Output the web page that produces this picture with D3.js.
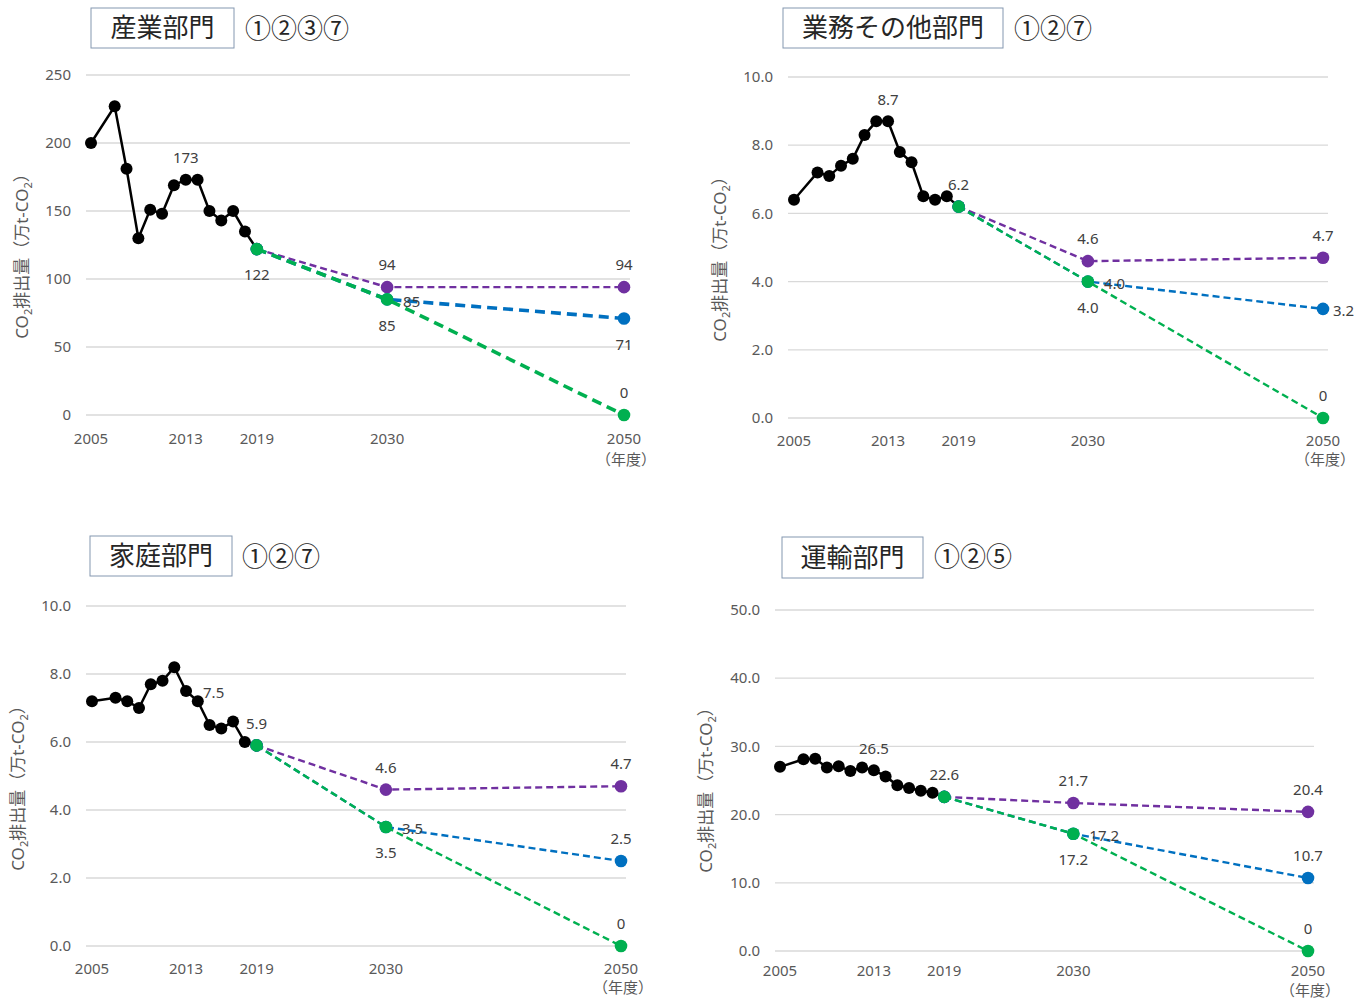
<!DOCTYPE html>
<html><head><meta charset="utf-8">
<script src="https://cdn.jsdelivr.net/npm/d3@7"></script>
<style>
body{margin:0;background:#fff;}
text{font-family:"Noto Sans","Noto Sans CJK JP",sans-serif;}
</style></head>
<body><svg id="c" width="1358" height="1001"></svg>
<script>
// ---- data ----
const histYears = [2005,2007,2008,2009,2010,2011,2012,2013,2014,2015,2016,2017,2018,2019];
const projYears = [2019,2030,2050];
const xTicks = [2005,2013,2019,2030,2050];

const titles = ["産業部門","業務その他部門","家庭部門","運輸部門"];
const titleNums = ["①②③⑦","①②⑦","①②⑦","①②⑤"];

const indHist = [200,227,181,130,151,148,169,173,173,150,143,150,135,122];
const indPurple = [122,94,94];
const indBlue = [122,85,71];
const indGreen = [122,85,0];
const indTicks = [0,50,100,150,200,250];

const busHist = [6.4,7.2,7.1,7.4,7.6,8.3,8.7,8.7,7.8,7.5,6.5,6.4,6.5,6.2];
const busPurple = [6.2,4.6,4.7];
const busBlue = [6.2,4.0,3.2];
const busGreen = [6.2,4.0,0];
const busTicks = [0,2,4,6,8,10];

const homHist = [7.2,7.3,7.2,7.0,7.7,7.8,8.2,7.5,7.2,6.5,6.4,6.6,6.0,5.9];
const homPurple = [5.9,4.6,4.7];
const homBlue = [5.9,3.5,2.5];
const homGreen = [5.9,3.5,0];
const homTicks = [0,2,4,6,8,10];

const trnHist = [27.0,28.1,28.2,26.9,27.1,26.4,26.9,26.5,25.6,24.3,23.9,23.5,23.2,22.6];
const trnPurple = [22.6,21.7,20.4];
const trnBlue = [22.6,17.2,10.7];
const trnGreen = [22.6,17.2,0];
const trnTicks = [0,10,20,30,40,50];

// ---- layout / style ----
const svg = d3.select("#c");
const C = {black:"#000", purple:"#7030A0", blue:"#0070C0", green:"#00B050"};

const panels = [
 {hist:indHist, purple:indPurple, blue:indBlue, green:indGreen, ticks:indTicks, max:250, fmt:d3.format("d"),
  x0:91,x1:624,yT:75,yB:415,g0:86,g1:630, box:[91,8,143,40], numX:245, titleY:29,
  axX:22, axY:252, thick:true, xlY:439, nenY:460,
  labels:[["h",7,"a"],["h",13,"b"],["p",1,"a"],["b",1,"r"],["g",1,"b"],["p",2,"a"],["b",2,"b"],["g",2,"a"]]},
 {hist:busHist, purple:busPurple, blue:busBlue, green:busGreen, ticks:busTicks, max:10, fmt:d3.format(".1f"),
  x0:794,x1:1323,yT:77,yB:418,g0:788,g1:1328, box:[783,8,220,40], numX:1014, titleY:29,
  axX:720, axY:255, thick:false, xlY:441, nenY:460,
  labels:[["h",7,"a"],["h",13,"a"],["p",1,"a"],["b",1,"r"],["g",1,"b"],["p",2,"a"],["b",2,"r2"],["g",2,"a"]]},
 {hist:homHist, purple:homPurple, blue:homBlue, green:homGreen, ticks:homTicks, max:10, fmt:d3.format(".1f"),
  x0:92,x1:621,yT:606,yB:946,g0:86,g1:626, box:[90,536,142,40], numX:242, titleY:557,
  axX:18, axY:784, thick:false, xlY:969, nenY:988,
  labels:[["h",7,"r3"],["h",13,"a"],["p",1,"a"],["b",1,"r"],["g",1,"b"],["p",2,"a"],["b",2,"a"],["g",2,"a"]]},
 {hist:trnHist, purple:trnPurple, blue:trnBlue, green:trnGreen, ticks:trnTicks, max:50, fmt:d3.format(".1f"),
  x0:780,x1:1308,yT:610,yB:951,g0:775,g1:1314, box:[782,537,141,41], numX:934, titleY:557,
  axX:706, axY:786, thick:false, xlY:971, nenY:991,
  labels:[["h",7,"a"],["h",13,"a"],["p",1,"a"],["b",1,"r"],["g",1,"b"],["p",2,"a"],["b",2,"a"],["g",2,"a"]]}
];

panels.forEach((P,pi)=>{
  const g = svg.append("g");
  const x = d3.scaleLinear().domain([2005,2050]).range([P.x0,P.x1]);
  const y = d3.scaleLinear().domain([0,P.max]).range([P.yB,P.yT]);

  // grid
  g.selectAll(".grid").data(P.ticks).join("line")
    .attr("x1",P.g0).attr("x2",P.g1).attr("y1",d=>y(d)).attr("y2",d=>y(d))
    .attr("stroke","#d9d9d9").attr("stroke-width",1.3);
  // y tick labels
  g.selectAll(".yl").data(P.ticks).join("text")
    .attr("x",P.g0-15).attr("y",d=>y(d)).attr("dy","0.35em").attr("text-anchor","end")
    .attr("font-size",15).attr("fill","#595959").text(d=>P.fmt(d));
  // x tick labels
  g.selectAll(".xl").data(xTicks).join("text")
    .attr("x",d=>x(d)).attr("y",P.xlY).attr("dy","0.35em").attr("text-anchor","middle")
    .attr("font-size",15).attr("fill","#595959").text(d=>d);
  g.append("text").attr("x",x(2050)+2).attr("y",P.nenY).attr("dy","0.35em").attr("text-anchor","middle")
    .attr("font-size",15).attr("fill","#595959").attr("font-family","Noto Sans CJK JP").text("（年度）");

  // y axis title
  const at = g.append("text").attr("transform",`translate(${P.axX},${P.axY}) rotate(-90)`)
    .attr("text-anchor","middle").attr("dy","0.35em").attr("font-size",17).attr("fill","#595959")
    .attr("font-family","Noto Sans CJK JP");
  at.append("tspan").text("CO");
  at.append("tspan").attr("font-size",11).attr("dy",4).text("2");
  at.append("tspan").attr("dy",-4).text("排出量（万t-CO");
  at.append("tspan").attr("font-size",11).attr("dy",4).text("2");
  at.append("tspan").attr("dy",-4).text("）");

  // title
  const [bx,by,bw,bh] = P.box;
  g.append("rect").attr("x",bx).attr("y",by).attr("width",bw).attr("height",bh)
    .attr("fill","#fff").attr("stroke","#8497b0").attr("stroke-width",1);
  g.append("text").attr("x",bx+bw/2).attr("y",by+bh/2).attr("dy","0.36em").attr("text-anchor","middle")
    .attr("font-size",26).attr("fill","#262626").attr("font-family","Noto Sans CJK JP").text(titles[pi]);
  g.append("text").attr("x",P.numX).attr("y",P.titleY).attr("dy","0.36em")
    .attr("font-size",26).attr("fill","#262626").attr("font-family","Noto Sans CJK JP").text(titleNums[pi]);

  const line = d3.line().x(d=>x(d[0])).y(d=>y(d[1]));
  // historical
  const hd = histYears.map((yr,i)=>[yr,P.hist[i]]);
  g.append("path").datum(hd).attr("d",line).attr("fill","none").attr("stroke",C.black).attr("stroke-width",2.5);
  g.selectAll(".hp").data(hd).join("circle").attr("cx",d=>x(d[0])).attr("cy",d=>y(d[1])).attr("r",6).attr("fill",C.black);

  // projections
  const series = [["p",P.purple,C.purple,false],["b",P.blue,C.blue,P.thick],["g",P.green,C.green,P.thick]];
  series.forEach(([k,vals,col,thick])=>{
    const d = projYears.map((yr,i)=>[yr,vals[i]]);
    g.append("path").datum(d).attr("d",line).attr("fill","none").attr("stroke",col)
      .attr("stroke-width",thick?3.6:2.4).attr("stroke-dasharray",thick?"10,6":"7,4");
    g.selectAll(".pp"+k).data(d).join("circle").attr("cx",e=>x(e[0])).attr("cy",e=>y(e[1])).attr("r",6.3).attr("fill",col);
  });

  // data labels
  const src = {h:[histYears,P.hist], p:[projYears,P.purple], b:[projYears,P.blue], g:[projYears,P.green]};
  const lf = v => v===0 ? "0" : P.fmt(v);
  P.labels.forEach(([k,i,pos])=>{
    const yr = src[k][0][i], v = src[k][1][i];
    let px = x(yr), py = y(v), anchor="middle";
    if(pos==="a"){ py -= 22; }
    else if(pos==="b"){ py += 26; }
    else if(pos==="r"){ px += 16; py += 2; anchor="start"; }
    else if(pos==="r2"){ px += 10; py += 2; anchor="start"; }
    else if(pos==="r3"){ px += 17; py += 2; anchor="start"; }
    g.append("text").attr("x",px).attr("y",py).attr("dy","0.35em").attr("text-anchor",anchor)
      .attr("font-size",15).attr("fill","#404040").text(lf(v));
  });
});
</script></body></html>
